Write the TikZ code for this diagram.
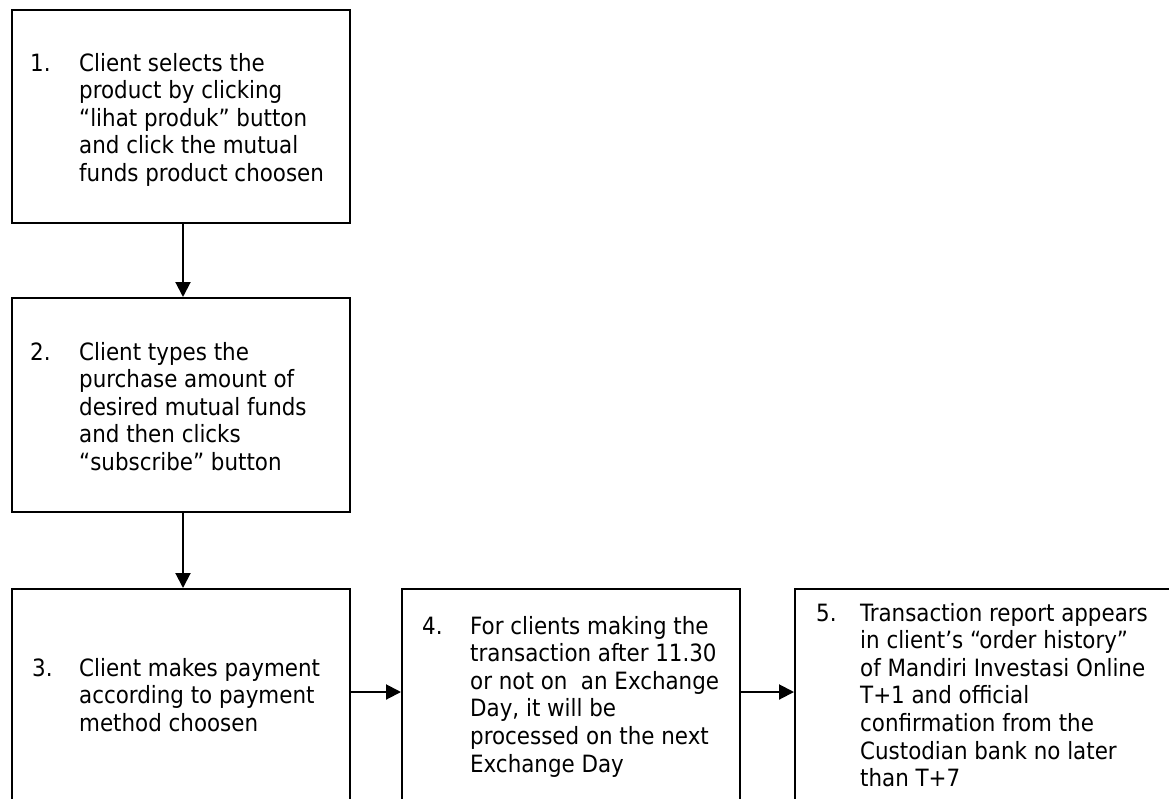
\documentclass[tikz,border=0pt]{standalone}
\usepackage{fontspec}
\setmainfont{DejaVu Sans Condensed}
\usetikzlibrary{arrows.meta}
\newcommand{\steplines}[1]{\begin{tabular}[t]{@{}l@{}}#1\end{tabular}}
\begin{document}
\begin{tikzpicture}[x=1pt,y=-1pt,
  stepbox/.style={draw,line width=2pt,rectangle,inner sep=0pt,anchor=north west},
  stepnum/.style={anchor=base west,inner sep=0pt,font=\fontsize{23.8}{27.6}\selectfont},
  steptext/.style={anchor=base west,inner sep=0pt,font=\fontsize{23.8}{27.6}\selectfont},
  flow/.style={line width=2pt,-{Triangle[length=15pt,width=15pt]}}]
\useasboundingbox (0,0) rectangle (1169,798);
\clip (0,0) rectangle (1169,798);

% boxes (the bottom row runs past the lower edge)
\node[stepbox,minimum width=338pt,minimum height=213pt] (b1) at (11,9) {};
\node[stepbox,minimum width=338pt,minimum height=214pt] (b2) at (11,297) {};
\node[stepbox,minimum width=338pt,minimum height=240pt] (b3) at (11,588) {};
\node[stepbox,minimum width=338pt,minimum height=240pt] (b4) at (401,588) {};
\node[stepbox,minimum width=420pt,minimum height=240pt] (b5) at (794,588) {};

% step texts
\node[stepnum] (n1) at (30,71) {1.};
\node[steptext] (t1) at (79,71) {\steplines{Client selects the\\product by clicking\\“lihat produk” button\\and click the mutual\\funds product choosen}};

\node[stepnum] (n2) at (30,360) {2.};
\node[steptext] (t2) at (79,360) {\steplines{Client types the\\purchase amount of\\desired mutual funds\\and then clicks\\“subscribe” button}};

\node[stepnum] (n3) at (32,676) {3.};
\node[steptext] (t3) at (79,676) {\steplines{Client makes payment\\according to payment\\method choosen}};

\node[stepnum] (n4) at (422,634) {4.};
\node[steptext] (t4) at (470,634) {\steplines{For clients making the\\transaction after 11.30\\or not on\ \ an Exchange\\Day, it will be\\processed on the next\\Exchange Day}};

\node[stepnum] (n5) at (816,621) {5.};
\node[steptext] (t5) at (860,621) {\steplines{Transaction report appears\\in client’s “order history”\\of Mandiri Investasi Online\\T+1 and official\\confirmation from the\\Custodian bank no later\\than T+7}};

% connectors
\coordinate (row) at (0,692);
\draw[flow] ([xshift=2pt]b1.south) -- ([xshift=2pt]b2.north);
\draw[flow] ([xshift=2pt]b2.south) -- ([xshift=2pt]b3.north);
\draw[flow] (b3.east |- row) -- (b4.west |- row);
\draw[flow] (b4.east |- row) -- (b5.west |- row);
\end{tikzpicture}
\end{document}
